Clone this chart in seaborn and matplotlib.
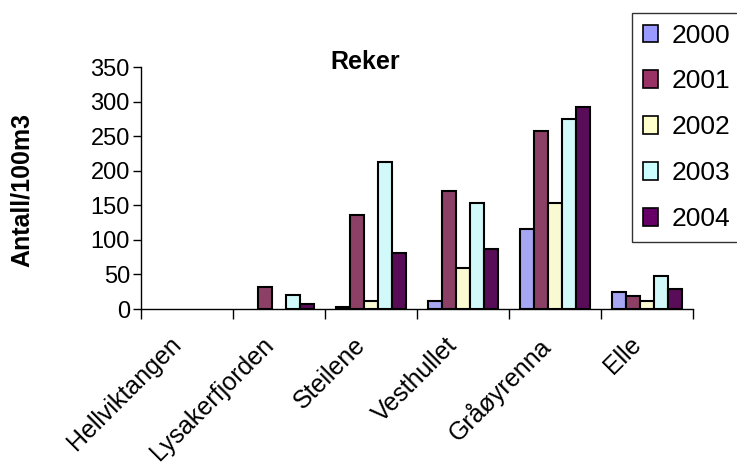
import matplotlib
matplotlib.use("Agg")
import matplotlib.pyplot as plt
import matplotlib.transforms as mtransforms
import seaborn as sns
import pandas as pd
from matplotlib.patches import Patch

# data
steder = ["Hellviktangen", "Lysakerfjorden", "Steilene", "Vesthullet", "Gråøyrenna", "Elle"]
aar = ["2000", "2001", "2002", "2003", "2004"]
v2000 = [0, 0, 3, 12, 116, 25]
v2001 = [0, 32, 136, 171, 258, 19]
v2002 = [0, 0, 12, 60, 153, 11]
v2003 = [0, 20, 213, 153, 275, 48]
v2004 = [0, 7, 81, 87, 292, 29]
farger = ["#9999FF", "#993366", "#FFFFCC", "#CCFFFF", "#660066"]

rows = []
for a, vals in zip(aar, [v2000, v2001, v2002, v2003, v2004]):
    for s, v in zip(steder, vals):
        rows.append({"sted": s, "aar": a, "antall": v})
df = pd.DataFrame(rows)

sns.set_style("white")
plt.rcParams["font.family"] = ["Liberation Sans", "DejaVu Sans"]
plt.rcParams["text.color"] = "black"
plt.rcParams["xtick.color"] = "black"
plt.rcParams["ytick.color"] = "black"

fig = plt.figure(figsize=(7.37, 4.69), dpi=100)
ax = fig.add_axes([141 / 737, 1 - 309 / 469, (693 - 141) / 737, (309 - 67) / 469])

sns.barplot(data=df, x="sted", y="antall", hue="aar", palette=farger,
            width=0.76, edgecolor="black", linewidth=1.5, ax=ax, legend=False)
# tomme søyler (0) skal ikke tegne kant
for p in ax.patches:
    if p.get_height() == 0:
        p.set_linewidth(0)

ax.set_ylim(0, 350)
ax.set_xlim(-0.5, len(steder) - 0.5)
ax.set_yticks(range(0, 351, 50))
ax.tick_params(axis="y", labelsize=17, length=6, width=1, direction="out", left=True, pad=2)
ax.set_xticks(range(len(steder)))
ax.set_xticklabels(steder, rotation=45, ha="right", rotation_mode="anchor", fontsize=18)
ax.tick_params(axis="x", length=0, pad=17)
ax.set_xticks([i - 0.5 for i in range(len(steder) + 1)], minor=True)
ax.tick_params(axis="x", which="minor", length=7, width=1, direction="out", bottom=True)
skift = mtransforms.ScaledTranslation(-18 / 100, 0, fig.dpi_scale_trans)
for lab in ax.get_xticklabels():
    lab.set_transform(lab.get_transform() + skift)
ax.set_xlabel("")
ax.set_ylabel("")
for s in ["top", "right"]:
    ax.spines[s].set_visible(False)
for s in ["left", "bottom"]:
    ax.spines[s].set_color("black")
    ax.spines[s].set_linewidth(1)

fig.text(365 / 737, 1 - 62 / 469, "Reker", fontsize=18, fontweight="bold", ha="center", va="center")
fig.text(22 / 737, 1 - 190 / 469, "Antall/100m3", fontsize=18, fontweight="bold",
         rotation=90, ha="center", va="center")

handles = [Patch(facecolor=c, edgecolor="black", linewidth=1.2) for c in farger]
leg = fig.legend(handles, aar, loc="upper left", bbox_to_anchor=(632 / 737, 1 - 13 / 469),
                 fontsize=19, frameon=True, fancybox=False, handlelength=0.6, handleheight=0.64,
                 handletextpad=0.5, labelspacing=0.83, borderpad=0.4, borderaxespad=0)
leg.get_frame().set_edgecolor("black")
leg.get_frame().set_linewidth(1)

fig.savefig("out.png", dpi=100)
